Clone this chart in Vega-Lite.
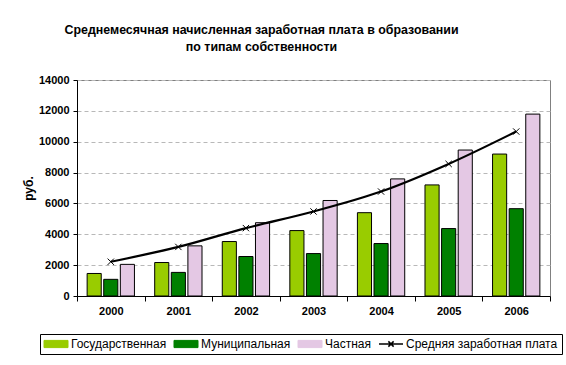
{
  "$schema": "https://vega.github.io/schema/vega-lite/v6.json",
  "width": 473,
  "height": 216,
  "autosize": {"type": "none"},
  "padding": {"left": 77, "top": 80, "right": 16, "bottom": 69},
  "background": "white",
  "title": {
    "text": ["Среднемесячная начисленная заработная плата в образовании", "по типам собственности"],
    "font": "Liberation Sans",
    "fontSize": 12.4,
    "fontWeight": "bold",
    "lineHeight": 17,
    "anchor": "middle",
    "dx": -52,
    "offset": 21,
    "color": "black"
  },
  "data": {
    "values": [
      {"year": "2000", "series": "Государственная", "value": 1460},
      {"year": "2000", "series": "Муниципальная", "value": 1080},
      {"year": "2000", "series": "Частная", "value": 2050},
      {"year": "2000", "series": "Средняя заработная плата", "value": 2220},
      {"year": "2001", "series": "Государственная", "value": 2170},
      {"year": "2001", "series": "Муниципальная", "value": 1530},
      {"year": "2001", "series": "Частная", "value": 3250},
      {"year": "2001", "series": "Средняя заработная плата", "value": 3180},
      {"year": "2002", "series": "Государственная", "value": 3530},
      {"year": "2002", "series": "Муниципальная", "value": 2560},
      {"year": "2002", "series": "Частная", "value": 4750},
      {"year": "2002", "series": "Средняя заработная плата", "value": 4400},
      {"year": "2003", "series": "Государственная", "value": 4240},
      {"year": "2003", "series": "Муниципальная", "value": 2750},
      {"year": "2003", "series": "Частная", "value": 6190},
      {"year": "2003", "series": "Средняя заработная плата", "value": 5480},
      {"year": "2004", "series": "Государственная", "value": 5400},
      {"year": "2004", "series": "Муниципальная", "value": 3400},
      {"year": "2004", "series": "Частная", "value": 7590},
      {"year": "2004", "series": "Средняя заработная плата", "value": 6770},
      {"year": "2005", "series": "Государственная", "value": 7200},
      {"year": "2005", "series": "Муниципальная", "value": 4370},
      {"year": "2005", "series": "Частная", "value": 9460},
      {"year": "2005", "series": "Средняя заработная плата", "value": 8560},
      {"year": "2006", "series": "Государственная", "value": 9200},
      {"year": "2006", "series": "Муниципальная", "value": 5660},
      {"year": "2006", "series": "Частная", "value": 11790},
      {"year": "2006", "series": "Средняя заработная плата", "value": 10660}
    ]
  },
  "encoding": {
    "x": {
      "field": "year",
      "type": "nominal",
      "scale": {"paddingInner": 0, "paddingOuter": 0},
      "axis": {
        "title": null,
        "labelAngle": 0,
        "tickBand": "extent",
        "labelFont": "Liberation Sans",
        "labelFontSize": 11,
        "labelFontWeight": "bold",
        "labelColor": "black",
        "labelPadding": 4,
        "domainColor": "black",
        "tickColor": "black",
        "tickSize": 5,
        "grid": false
      }
    },
    "y": {
      "field": "value",
      "type": "quantitative",
      "scale": {"domain": [0, 14000], "nice": false},
      "axis": {
        "title": "руб.",
        "format": "d",
        "titleFont": "Liberation Sans",
        "titleFontSize": 12,
        "titleFontWeight": "bold",
        "titleColor": "black",
        "titleX": -42,
        "values": [0, 2000, 4000, 6000, 8000, 10000, 12000, 14000],
        "labelFont": "Liberation Sans",
        "labelFontSize": 11,
        "labelFontWeight": "bold",
        "labelColor": "black",
        "labelPadding": 4,
        "domainColor": "black",
        "tickColor": "black",
        "tickSize": 4,
        "grid": true,
        "gridColor": "#b8b8b8",
        "gridDash": [4, 3]
      }
    },
    "color": {
      "field": "series",
      "type": "nominal",
      "scale": {
        "domain": ["Государственная", "Муниципальная", "Частная", "Средняя заработная плата"],
        "range": ["#99cc00", "#008000", "#e4c8e4", "#000000"]
      },
      "legend": {
        "title": null,
        "orient": "none",
        "direction": "horizontal",
        "columns": 4,
        "legendX": -37,
        "legendY": 254,
        "strokeColor": "black",
        "padding": 4,
        "columnPadding": 5,
        "labelFont": "Liberation Sans",
        "labelFontSize": 12,
        "labelColor": "black",
        "labelOffset": 9,
        "symbolOffset": 6,
        "symbolSize": 576,
        "encode": {
          "symbols": {
            "update": {
              "shape": {"signal": "datum.value === 'Средняя заработная плата' ? 'M-1,0H1M-0.22,-0.22L0.22,0.22M-0.22,0.22L0.22,-0.22' : 'M-1,-0.3H1V0.3H-1Z'"},
              "fill": {"signal": "datum.value === 'Средняя заработная плата' ? 'transparent' : scale('color', datum.value)"},
              "stroke": {"value": "black"},
              "strokeWidth": {"signal": "datum.value === 'Средняя заработная плата' ? 1.5 : 1"},
              "opacity": {"value": 1}
            }
          }
        }
      }
    }
  },
  "layer": [
    {
      "transform": [{"filter": "datum.series !== 'Средняя заработная плата'"}],
      "mark": {"type": "bar", "stroke": "black", "strokeWidth": 1},
      "encoding": {
        "xOffset": {
          "field": "series",
          "type": "nominal",
          "sort": ["Государственная", "Муниципальная", "Частная"],
          "scale": {"paddingInner": 0.15, "paddingOuter": 0.61}
        }
      }
    },
    {
      "transform": [{"filter": "datum.series === 'Средняя заработная плата'"}],
      "mark": {"type": "line", "interpolate": "monotone", "strokeWidth": 2.2}
    },
    {
      "transform": [{"filter": "datum.series === 'Средняя заработная плата'"}],
      "mark": {"type": "point", "shape": "M-1,-1L1,1M-1,1L1,-1", "filled": false, "strokeWidth": 1, "size": 40, "opacity": 1}
    }
  ],
  "config": {
    "view": {"stroke": "#808080", "strokeWidth": 1},
    "font": "Liberation Sans"
  }
}
